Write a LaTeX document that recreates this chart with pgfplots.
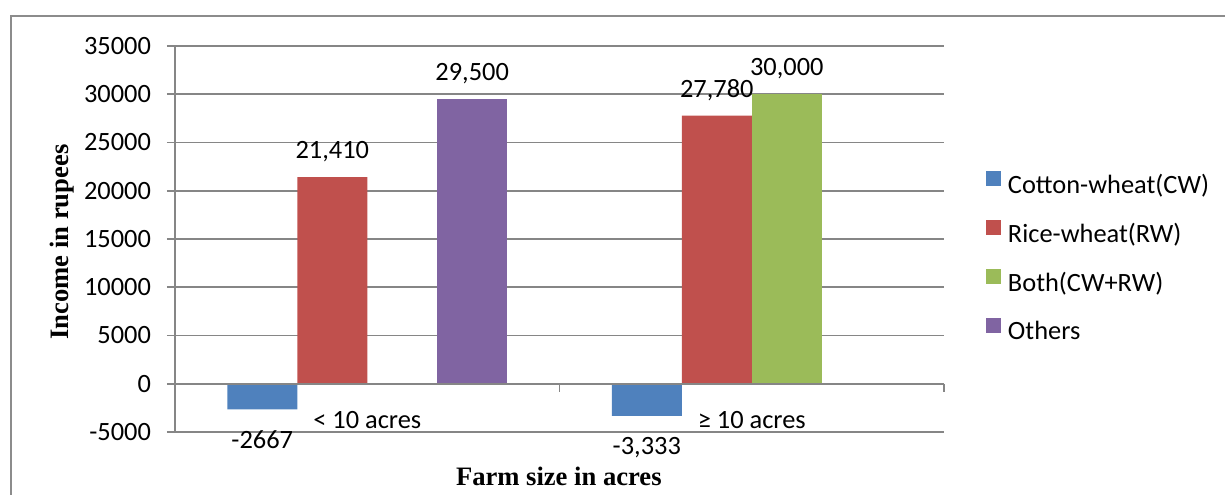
\documentclass[border=0pt]{standalone}
\usepackage{fontspec}
\setmainfont{Carlito}
\newfontfamily\titlefont{Liberation Serif}
\usepackage{pgfplots}
\pgfplotsset{compat=1.18}
\definecolor{cw}{HTML}{4F81BD}
\definecolor{rw}{HTML}{C0504D}
\definecolor{both}{HTML}{9BBB59}
\definecolor{oth}{HTML}{8064A2}
\definecolor{gridc}{RGB}{134,134,134}
\definecolor{framec}{RGB}{140,140,140}
\newcommand{\fs}{\fontsize{13.2}{15.8}\selectfont}
\pgfplotsset{
  sqlegend/.style={legend image code/.code={\fill[##1] (0pt,0.4pt) rectangle (7.5pt,7.9pt);}},
  poslab/.style={nodes near coords, point meta=explicit symbolic,
    nodes near coords align={center},
    every node near coord/.append style={font=\fs, anchor=base, yshift=9.25pt, text=black}},
  neglab/.style={nodes near coords, point meta=explicit symbolic,
    nodes near coords align={center},
    every node near coord/.append style={font=\fs, anchor=base, yshift=-19.5pt, text=black}},
}
\begin{document}
\begin{tikzpicture}
\useasboundingbox (0,0) rectangle (612.5pt,247pt);
\draw[framec, line width=0.8pt] (5.5pt,-2pt) -- (5.5pt,239pt) -- (615pt,239pt);
\begin{axis}[
  at={(87.5pt,31pt)}, anchor=south west,
  scale only axis, width=384.5pt, height=193pt,
  xmin=-0.5, xmax=1.5, ymin=-5000, ymax=35000,
  ytick={-5000,0,5000,10000,15000,20000,25000,30000,35000},
  scaled y ticks=false,
  xtick=\empty,
  separate axis lines,
  axis x line=none, axis y line*=left,
  y axis line style={gridc, line width=0.8pt},
  ymajorgrids, grid style={gridc, line width=0.8pt},
  tick align=outside, major tick length=4pt,
  tick style={gridc, line width=0.8pt},
  yticklabel style={font=\fs, xshift=-4.5pt, /pgf/number format/1000 sep={}, /pgf/number format/assume math mode=true},
  clip=false,
  legend style={at={(1.0546,0.4495)}, anchor=west, draw=none, fill=none,
    inner sep=0pt, outer sep=0pt, font=\fs, row sep=10.3pt, column sep=0pt,
    nodes={inner sep=0pt, text height=9.5pt, text depth=3pt}},
  legend cell align=left,
]
\addplot[ybar, bar width=0.182, bar shift=0pt, fill=cw, draw=none, sqlegend, neglab]
  coordinates {(-0.273,-2667) [-2667] (0.727,-3333) [{-3,333}]};
\addplot[ybar, bar width=0.182, bar shift=0pt, fill=rw, draw=none, sqlegend, poslab]
  coordinates {(-0.091,21410) [{21,410}] (0.909,27780) [{27,780}]};
\addplot[ybar, bar width=0.182, bar shift=0pt, fill=both, draw=none, sqlegend, poslab]
  coordinates {(1.091,30000) [{30,000}]};
\addplot[ybar, bar width=0.182, bar shift=0pt, fill=oth, draw=none, sqlegend, poslab]
  coordinates {(0.273,29500) [{29,500}]};
\legend{\hspace{3.5pt}Cotton-wheat(CW), \hspace{3.5pt}Rice-wheat(RW), \hspace{3.5pt}Both(CW+RW), \hspace{3.5pt}Others}
\draw[gridc, line width=0.8pt] (axis cs:-0.5,0) -- (axis cs:1.5,0);
\draw[gridc, line width=0.8pt] (axis cs:0.5,0) -- ([yshift=-4pt]axis cs:0.5,0);
\draw[gridc, line width=0.8pt] (axis cs:1.5,0) -- ([yshift=-4pt]axis cs:1.5,0);
\node[font=\fs, anchor=base, yshift=-22.25pt] at (axis cs:0,0) {< 10 acres};
\node[font=\fs, anchor=base, yshift=-22.25pt] at (axis cs:1,0) {≥ 10 acres};
\end{axis}
\node[font=\titlefont\bfseries\fontsize{13.3}{16}\selectfont, anchor=base] at (279.4pt,4.5pt) {Farm size in acres};
\node[font=\titlefont\bfseries\fontsize{13.3}{16}\selectfont, anchor=base, rotate=90] at (34pt,126pt) {Income in rupees};
\end{tikzpicture}
\end{document}
